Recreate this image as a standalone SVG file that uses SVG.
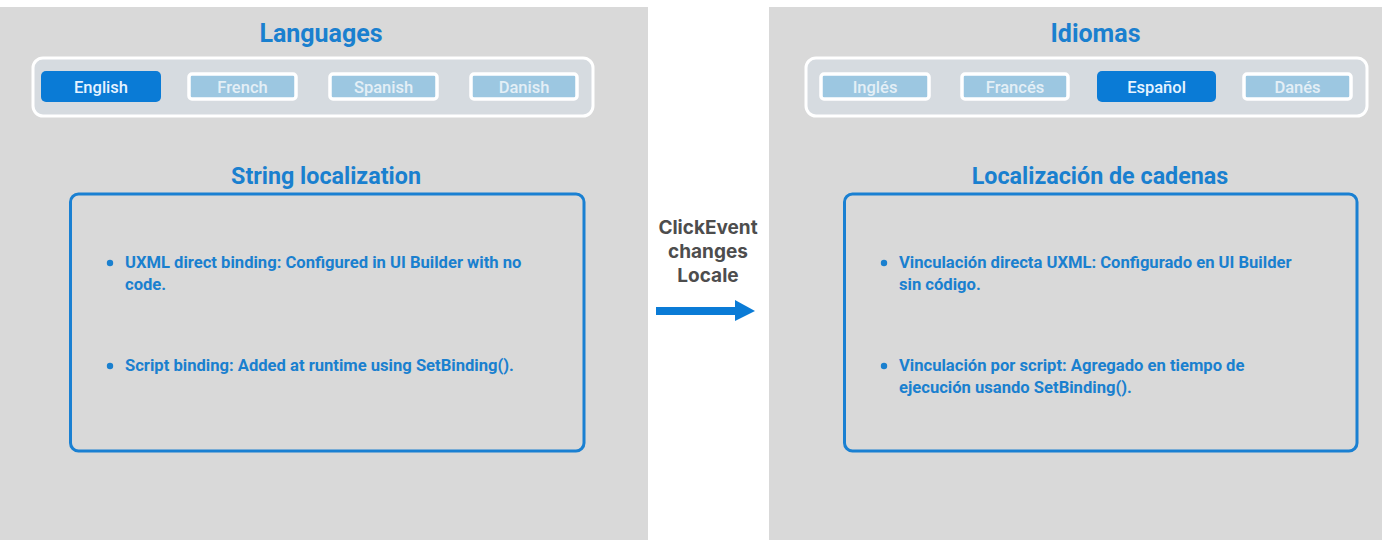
<svg xmlns="http://www.w3.org/2000/svg" width="1382" height="559" viewBox="0 0 1382 559">
<style>
.panel{fill:#d9d9d9}
.bar{fill:#d6dbe0;stroke:#ffffff;stroke-width:3}
.on{fill:#0a7bd6}
.off{fill:#9cc7e1;stroke:#ffffff;stroke-width:3.5}
.btxt{font-family:Roboto,"Liberation Sans",sans-serif;font-size:16.5px;text-anchor:middle}
.ontxt{fill:#e6f3ff;font-weight:500}
.offtxt{fill:#e4eff6;font-weight:500}
.title{font-family:Roboto,"Liberation Sans",sans-serif;font-size:23.3px;font-weight:700;fill:#1a80cf;text-anchor:middle}
.big{font-size:25px}
.box{fill:none;stroke:#1a80d2;stroke-width:3}
.item{font-family:Roboto,"Liberation Sans",sans-serif;font-size:16.6px;font-weight:700;fill:#1a80cf}
.dot{fill:#1a80cf}
.mid{font-family:Inter,"Liberation Sans",sans-serif;font-size:19px;font-weight:700;fill:#4d4d4d;text-anchor:middle}
</style>
<rect width="1382" height="559" fill="#ffffff"/>
<g id="left-panel">
<rect class="panel" x="0" y="7" width="648" height="533"/>
<text class="title big" x="321" y="42">Languages</text>
<rect class="bar" x="33" y="58" width="560" height="58" rx="10"/>
<g id="btn-english"><rect class="on" x="41" y="71" width="120" height="31" rx="5"/><text class="btxt ontxt" x="101" y="92.5">English</text></g>
<g id="btn-french"><rect class="off" x="189" y="74" width="107" height="25" rx="3"/><text class="btxt offtxt" x="242.5" y="92.5">French</text></g>
<g id="btn-spanish"><rect class="off" x="330" y="74" width="107" height="25" rx="3"/><text class="btxt offtxt" x="383.5" y="92.5">Spanish</text></g>
<g id="btn-danish"><rect class="off" x="471" y="74" width="106" height="25" rx="3"/><text class="btxt offtxt" x="524" y="92.5">Danish</text></g>
<text class="title" x="326" y="184">String localization</text>
<g id="box-left">
<rect class="box" x="70.5" y="194" width="513.5" height="257" rx="8"/>
<circle class="dot" cx="110" cy="263" r="3.2"/>
<text class="item" x="125" y="268">UXML direct binding: Configured in UI Builder with no</text>
<text class="item" x="125" y="290">code.</text>
<circle class="dot" cx="110" cy="366" r="3.2"/>
<text class="item" x="125" y="371">Script binding: Added at runtime using SetBinding().</text>
</g>
</g>
<g id="right-panel">
<rect class="panel" x="769" y="7" width="613" height="533"/>
<text class="title big" x="1095.5" y="42">Idiomas</text>
<rect class="bar" x="806" y="58" width="561" height="58" rx="10"/>
<g id="btn-ingles"><rect class="off" x="821" y="74" width="108" height="25" rx="3"/><text class="btxt offtxt" x="875" y="92.5">Inglés</text></g>
<g id="btn-frances"><rect class="off" x="962" y="74" width="106" height="25" rx="3"/><text class="btxt offtxt" x="1015" y="92.5">Francés</text></g>
<g id="btn-espanol"><rect class="on" x="1097" y="71" width="119" height="31" rx="5"/><text class="btxt ontxt" x="1156.5" y="92.5">Español</text></g>
<g id="btn-danes"><rect class="off" x="1244" y="74" width="107" height="25" rx="3"/><text class="btxt offtxt" x="1297.5" y="92.5">Danés</text></g>
<text class="title" x="1100" y="184">Localización de cadenas</text>
<g id="box-right">
<rect class="box" x="844.5" y="194" width="512.5" height="257" rx="8"/>
<circle class="dot" cx="884" cy="263" r="3.2"/>
<text class="item" x="899" y="268">Vinculación directa UXML: Configurado en UI Builder</text>
<text class="item" x="899" y="290">sin código.</text>
<circle class="dot" cx="884" cy="366" r="3.2"/>
<text class="item" x="899" y="371">Vinculación por script: Agregado en tiempo de</text>
<text class="item" x="899" y="393">ejecución usando SetBinding().</text>
</g>
</g>
<g id="connectors">
<text class="mid" x="708" y="234">ClickEvent</text>
<text class="mid" x="708" y="258">changes</text>
<text class="mid" x="708" y="282">Locale</text>
<rect x="656" y="307" width="81" height="8" fill="#0a7bd6"/>
<polygon points="735,300 755,311 735,321" fill="#0a7bd6"/>
</g>
</svg>
